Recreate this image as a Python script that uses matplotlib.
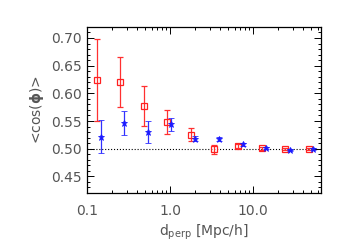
import numpy as np
import matplotlib
matplotlib.use("Agg")
import matplotlib.pyplot as plt
from matplotlib.ticker import FixedLocator, MultipleLocator, LogLocator, NullFormatter

# ── data ───────────────────────────────────────────────────────────────────
red_x   = [0.132, 0.25, 0.486, 0.93, 1.79, 3.42, 6.6, 12.7, 24.3, 47.3]
red_y   = [0.624, 0.621, 0.578, 0.549, 0.525, 0.499, 0.505, 0.5005, 0.4995, 0.500]
red_lo  = [0.074, 0.045, 0.037, 0.022, 0.011, 0.008, 0.003, 0.002, 0.002, 0.002]
red_hi  = [0.074, 0.045, 0.036, 0.021, 0.012, 0.007, 0.003, 0.002, 0.002, 0.002]

blue_x  = [0.146, 0.28, 0.54, 1.04, 2.02, 3.86, 7.5, 14.5, 27.7, 53.3]
blue_y  = [0.522, 0.546, 0.530, 0.544, 0.518, 0.5175, 0.5077, 0.501, 0.4975, 0.4995]
blue_err = [0.030, 0.022, 0.020, 0.012, 0.005, 0.003, 0.002, 0.002, 0.001, 0.001]

xtick_vals   = [0.1, 1.0, 10.0]
xtick_labels = ["0.1", "1.0", "10.0"]

GREY = "#555555"

fig = plt.figure(figsize=(3.49, 2.49), dpi=100)
ax = fig.add_axes([0.249, 0.225, 0.671, 0.667])

ax.axhline(0.5, color="black", linestyle=":", linewidth=0.8, zorder=1)

ax.errorbar(red_x, red_y, yerr=[red_lo, red_hi], fmt="s", mfc="none",
            mec="#ff2020", ecolor="#ff3030", ms=4.5, mew=0.9, elinewidth=0.9,
            capsize=2.2, capthick=0.9, zorder=3)
ax.errorbar(blue_x, blue_y, yerr=blue_err, fmt="*", color="#1a1aff",
            ecolor="#3030ff", ms=4.5, mew=0.6, elinewidth=0.9,
            capsize=2.2, capthick=0.9, zorder=4)

ax.set_xscale("log")
ax.set_xlim(0.1, 66)
ax.set_ylim(0.42, 0.72)

ax.xaxis.set_major_locator(FixedLocator(xtick_vals))
ax.set_xticklabels(xtick_labels)
ax.xaxis.set_minor_locator(LogLocator(base=10, subs=np.arange(2, 10)))
ax.xaxis.set_minor_formatter(NullFormatter())
ax.yaxis.set_major_locator(MultipleLocator(0.05))
ax.yaxis.set_minor_locator(MultipleLocator(0.01))
ax.yaxis.set_major_formatter(plt.FuncFormatter(lambda v, p: f"{v:.2f}"))

ax.tick_params(which="both", direction="in", top=True, right=True,
               colors="black", labelcolor=GREY, labelsize=10, width=0.7)
ax.tick_params(which="major", length=5)
ax.tick_params(which="minor", length=2.5)
ax.tick_params(axis="x", pad=8)
for s in ax.spines.values():
    s.set_linewidth(0.9)

ax.set_ylabel(r"<cos($\mathbf{\phi}$)>", fontsize=10, color=GREY, labelpad=4)
ax.set_xlabel(r"d$_{\rm perp}$ [Mpc/h]", fontsize=10, color=GREY, labelpad=3)

plt.savefig("out.png", dpi=100)
plt.close()
